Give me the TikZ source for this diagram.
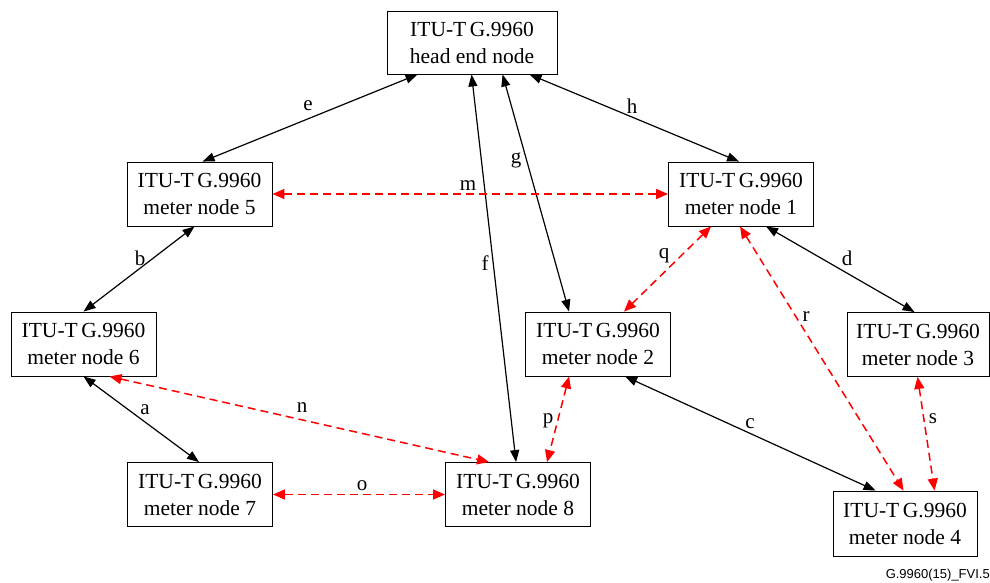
\documentclass[tikz,border=0pt]{standalone}
\usepackage{fontspec}
\setmainfont{Liberation Serif}
\newfontfamily\capfont{Liberation Sans}
\usetikzlibrary{arrows.meta}
\begin{document}
\begin{tikzpicture}[x=1pt,y=-1pt,
  box/.style={draw,line width=0.9pt,minimum width=145pt,minimum height=64pt,align=center,font=\fontsize{21.5}{27}\selectfont,inner sep=0pt},
  lbl/.style={font=\fontsize{21}{22}\selectfont,inner sep=0pt},
  blk/.style={line width=1.2pt,{Triangle[length=12pt,width=9pt]}-{Triangle[length=12pt,width=9pt]}},
  red/.style={line width=1.5pt,draw=red,dash pattern=on 8pt off 5pt,{Triangle[length=12pt,width=10pt,fill=red]}-{Triangle[length=12pt,width=10pt,fill=red]}}
]
\useasboundingbox (0,0) rectangle (990,582);
\node[box,minimum width=170pt,minimum height=63pt] (head) at (472,42.5) {ITU-T\,G.9960\\head end node};
\node[box] (n5) at (199.5,194) {ITU-T\,G.9960\\meter node 5};
\node[box] (n1) at (741,194) {ITU-T\,G.9960\\meter node 1};
\node[box] (n6) at (83.5,344) {ITU-T\,G.9960\\meter node 6};
\node[box] (n2) at (598,344) {ITU-T\,G.9960\\meter node 2};
\node[box,minimum width=142pt] (n3) at (918,344.5) {ITU-T\,G.9960\\meter node 3};
\node[box] (n7) at (200,494.5) {ITU-T\,G.9960\\meter node 7};
\node[box] (n8) at (518,494.5) {ITU-T\,G.9960\\meter node 8};
\node[box,minimum width=144pt,minimum height=65pt] (n4) at (905,523.5) {ITU-T\,G.9960\\meter node 4};

% black connectors
\draw[blk] ([xshift=31pt]head.south west) -- ([xshift=76pt]n5.north west);
\draw[blk] ([xshift=143pt]head.south west) -- ([xshift=71pt]n1.north west);
\draw[blk] ([xshift=116pt]head.south west) -- ([xshift=44pt]n2.north west);
\draw[blk] ([xshift=85pt]head.south west) -- ([xshift=71pt]n8.north west);
\draw[blk] ([xshift=68pt]n5.south west) -- ([xshift=73pt]n6.north west);
\draw[blk] ([xshift=98pt]n1.south west) -- ([xshift=68pt]n3.north west);
\draw[blk] ([xshift=100pt]n2.south west) -- ([xshift=43pt]n4.north west);
\draw[blk] ([xshift=73pt]n6.south west) -- ([xshift=72pt]n7.north west);

% red dashed connectors
\draw[red] (n5.east) -- (n1.west);
\draw[red] ([xshift=43pt]n1.south west) -- ([xshift=99pt]n2.north west);
\draw[red] ([xshift=72pt]n1.south west) -- ([xshift=71pt]n4.north west);
\draw[red] ([xshift=71pt]n3.south west) -- ([xshift=102pt]n4.north west);
\draw[red] ([xshift=44pt]n2.south west) -- ([xshift=102pt]n8.north west);
\draw[red] ([xshift=99pt]n6.south west) -- ([xshift=44pt]n8.north west);
\draw[red] (n7.east) -- (n8.west);

% labels
\node[lbl] (le) at (308,106) {e};
\node[lbl] (lh) at (632,106) {h};
\node[lbl] (lg) at (516,160) {g};
\node[lbl] (lf) at (485,263) {f};
\node[lbl] (lm) at (468,186) {m};
\node[lbl] (lb) at (140,258) {b};
\node[lbl] (lq) at (664,256) {q};
\node[lbl] (ld) at (847,258) {d};
\node[lbl] (lr) at (806,317) {r};
\node[lbl] (ls) at (933,419) {s};
\node[lbl] (lc) at (750,424) {c};
\node[lbl] (lp) at (548,421) {p};
\node[lbl] (ln) at (302,408) {n};
\node[lbl] (la) at (145,410) {a};
\node[lbl] (lo) at (362,486) {o};

\node[anchor=south east,inner sep=0pt,font=\capfont\fontsize{13}{14}\selectfont] (cap) at (990,581) {G.9960(15)\_FVI.5};
\end{tikzpicture}
\end{document}
